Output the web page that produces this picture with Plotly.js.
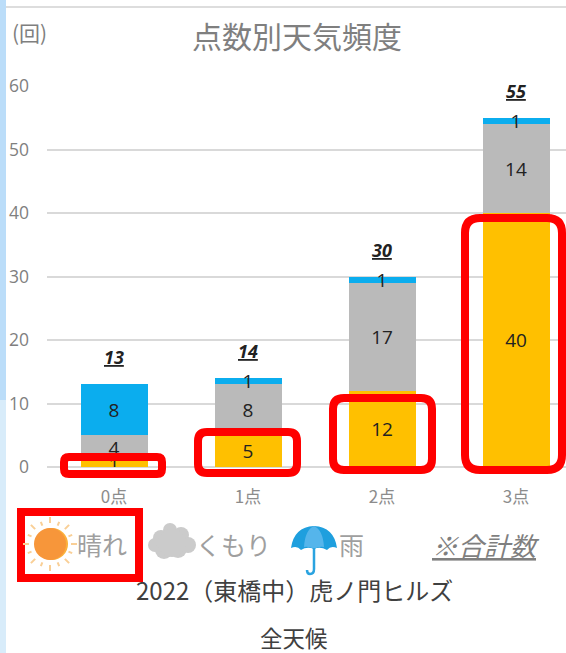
<!DOCTYPE html>
<html><head><meta charset="utf-8">
<script src="https://cdn.plot.ly/plotly-3.0.1.min.js"></script>
<style>html,body{margin:0;padding:0;background:#fff;overflow:hidden}#c{width:566px;height:653px}</style>
</head><body><div id="c"></div>
<script>
const categories = ['0点','1点','2点','3点'];
const sunny = [1,5,12,40];
const cloudy = [4,8,17,14];
const rain = [8,1,1,1];
const totals = [13,14,30,55];
const JP = '"Noto Sans CJK JP", sans-serif';

const L=47,T=86,B=467,W=519,H=381;
const px=x=>(x-L)/W, py=y=>(B-y)/H;
function pshape(o){return Object.assign({xref:'paper',yref:'paper',layer:'above'},o);}
function rect(x0,y0,x1,y1,fill,layer){return pshape({type:'rect',x0:px(x0),x1:px(x1),y0:py(y0),y1:py(y1),fillcolor:fill,line:{width:0},layer:layer||'above'});}
function circ(cx,cy,r,fill){return pshape({type:'circle',x0:px(cx-r),x1:px(cx+r),y0:py(cy-r),y1:py(cy+r),fillcolor:fill,line:{width:0}});}
function seg(x0,y0,x1,y1,color,w){return pshape({type:'line',x0:px(x0),x1:px(x1),y0:py(y0),y1:py(y1),line:{color:color,width:w}});}
function P(x,y){return px(x)+','+py(y);}
function round(x0,y0,x1,y1,r,w){
  const d='M'+P(x0+r,y0)+' L'+P(x1-r,y0)+' Q'+P(x1,y0)+' '+P(x1,y0+r)+' L'+P(x1,y1-r)+' Q'+P(x1,y1)+' '+P(x1-r,y1)+
    ' L'+P(x0+r,y1)+' Q'+P(x0,y1)+' '+P(x0,y1-r)+' L'+P(x0,y0+r)+' Q'+P(x0,y0)+' '+P(x0+r,y0)+' Z';
  return pshape({type:'path',path:d,line:{color:'#FF0000',width:w},fillcolor:'rgba(0,0,0,0)'});
}
const RED='#FF0000';
const shapes=[
  rect(0,0,6,653,'#BBDDF9','below'),
  rect(0,400,6,653,'#D8ECFA','below'),
  seg(6,7,566,7,'#DDDDDD',2),
  round(64,457,162,474,5,8),
  round(198,432,297,473,9,8),
  round(333,398,432,470,11,8),
  round(465,218,562,470,15,8),
  pshape({type:'rect',x0:px(21),x1:px(139),y0:py(512),y1:py(578),line:{color:RED,width:8},fillcolor:'rgba(0,0,0,0)'})
];
// sun icon
for(let i=0;i<16;i++){
  const a=i*Math.PI/8, c=50, d=544, r0=(i%2?20:21), r1=(i%2?24:27);
  shapes.push(seg(c+r0*Math.cos(a),d+r0*Math.sin(a),c+r1*Math.cos(a),d+r1*Math.sin(a),'#F9CF96',2));
}
shapes.push(circ(52,544,16,'#FBB03B'),circ(50,544,16,'#F7963A'));
// cloud icon
[[172,541,10],[161,538,8],[181,535,8],[155,545,7],[164,550,9],[178,549,9],[188,545,8],[170,530,7],[172,543,14]].forEach(c=>shapes.push(circ(c[0],c[1],c[2],'#CBCBCB')));
// umbrella icon
shapes.push(pshape({type:'path',fillcolor:'#1E9FDE',line:{width:0},
  path:'M'+P(291,548)+' Q'+P(294,527)+' '+P(314,526)+' Q'+P(334,527)+' '+P(337,548)+' Q'+P(331,545)+' '+P(327,550)+' Q'+P(320,546)+' '+P(314,549)+' Q'+P(307,546)+' '+P(301,550)+' Q'+P(297,545)+' '+P(291,548)+' Z'}));
shapes.push(pshape({type:'path',fillcolor:'#55B5EB',line:{width:0},
  path:'M'+P(304,547)+' Q'+P(305,530)+' '+P(314,526)+' Q'+P(323,530)+' '+P(324,547)+' Q'+P(319,546)+' '+P(314,549)+' Q'+P(309,546)+' '+P(304,547)+' Z'}));
shapes.push(pshape({type:'path',fillcolor:'rgba(0,0,0,0)',line:{color:'#2AA3E0',width:2.5},
  path:'M'+P(314,548)+' L'+P(314,569)+' Q'+P(314,574)+' '+P(310,574)+' Q'+P(307,574)+' '+P(307,570)}));

function note(x,y,text,size,color,anchor){
  return {xref:'paper',yref:'paper',x:px(x),y:py(y),text:text,showarrow:false,xanchor:anchor||'center',yanchor:'middle',
    font:{family:JP,size:size,color:color}};
}
const annotations=[
  note(297,35,'点数別天気頻度',30,'#7F7F7F'),
  note(29,32,'(回)',21,'#7F7F7F'),
  note(102,544,'晴れ',25,'#9F9F9F'),
  note(233,544,'くもり',25,'#9F9F9F'),
  note(351,544,'雨',25,'#9F9F9F'),
  note(486,544,'<i><u>※合計数</u></i>',26,'#7F7F7F'),
  note(294,589,'2022（東橋中）虎ノ門ヒルズ',24,'#404040'),
  note(294,637,'全天候',22.5,'#404040')
];
categories.forEach((c,i)=>annotations.push({x:i,y:totals[i],xref:'x',yref:'y',yshift:27,showarrow:false,
  text:'<b><i><u>'+totals[i]+'</u></i></b>',font:{family:'"Open Sans", sans-serif',size:18,color:'#222222'}}));

function series(name,vals,color){
  return {type:'bar',name:name,x:[0,1,2,3],y:vals,marker:{color:color,line:{width:0}},
    text:vals.map(String),textposition:'inside',insidetextanchor:'middle',textangle:0,constraintext:'none',
    textfont:{family:'"Open Sans", sans-serif',size:19,color:'#222222'},hoverinfo:'skip'};
}
Plotly.newPlot('c',[series('晴れ',sunny,'#FFC000'),series('くもり',cloudy,'#BABABA'),series('雨',rain,'#0BADEE')],{
  width:566,height:653,barmode:'stack',bargap:0.5,showlegend:false,
  margin:{l:L,r:0,t:T,b:653-B,pad:0},paper_bgcolor:'#fff',plot_bgcolor:'#fff',
  xaxis:{range:[-0.5,3.373],tickvals:[0,1,2,3],ticktext:categories,ticks:'',showgrid:false,zeroline:false,showline:false,
    ticklabelstandoff:18,tickfont:{family:JP,size:17,color:'#8C8C8C'}},
  yaxis:{range:[0,60],tick0:0,dtick:10,showgrid:true,gridcolor:'#D9D9D9',gridwidth:2,zeroline:true,zerolinecolor:'#D9D9D9',zerolinewidth:2,
    ticks:'',ticklabelstandoff:17,tickfont:{family:'"Open Sans", sans-serif',size:17.5,color:'#7F7F7F'}},
  shapes:shapes,annotations:annotations
},{displayModeBar:false,staticPlot:true});
</script></body></html>
